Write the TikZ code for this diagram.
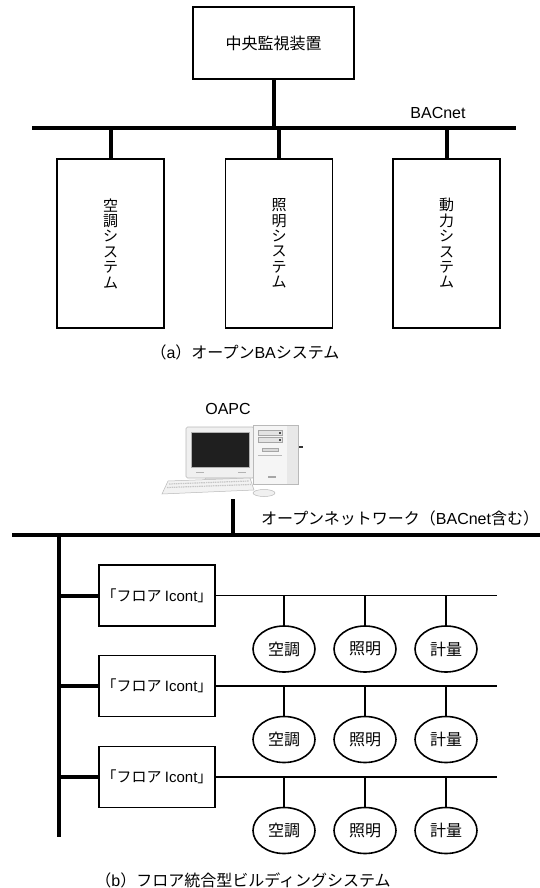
\documentclass[tikz,border=0pt]{standalone}
\usepackage{fontspec}
\setmainfont{Liberation Sans}
\newfontfamily\jp{Noto Sans CJK JP}
\usetikzlibrary{shapes.geometric}

\begin{document}
\begin{tikzpicture}[x=1pt,y=-1pt,
  lbl/.style={font=\fontsize{16}{19}\selectfont, inner sep=0pt},
  sysbox/.style={draw, line width=1.6pt, inner sep=0pt, font=\fontsize{16}{19}\selectfont},
  vbox/.style={sysbox, minimum width=107pt, minimum height=169pt, align=center,
               font={\jp\fontsize{15}{15.4}\selectfont}},
  floorbox/.style={sysbox, minimum width=116pt, minimum height=61pt, font=\fontsize{15}{18}\selectfont},
  dev/.style={ellipse, draw, line width=1.6pt, minimum width=62pt, minimum height=46pt,
              inner sep=0pt, font=\fontsize{16}{19}\selectfont},
  bus/.style={line width=4pt},
  wire/.style={line width=1.6pt}]
\useasboundingbox (0,0) rectangle (540,888);

% ---------- (a) open BA system ----------
\node[sysbox, minimum width=161pt, minimum height=72pt] (central) at (273.5,43) {\jp 中央監視装置};
\coordinate (busAL) at (32,128);
\coordinate (busAR) at (516,128);
\draw[bus] (busAL) -- (busAR);
\draw[bus] (central.south) -- (central.south |- busAL);
\node[lbl] (bacnet) at (438,113) {BACnet};

\node[vbox] (ac)  at (110.5,243.5) {空\\調\\シ\\ス\\テ\\ム};
\node[vbox] (lt)  at (279,243.5)   {照\\明\\シ\\ス\\テ\\ム};
\node[vbox] (pw)  at (446.5,243.5) {動\\力\\シ\\ス\\テ\\ム};
\foreach \s in {ac,lt,pw}
  \draw[bus] (\s.north |- busAL) -- (\s.north);

\node[lbl] (capA) at (245,352) {{\jp （}a{\jp ）オープン}BA{\jp システム}};

% ---------- (b) floor integrated building system ----------
\node[lbl] (oapc) at (228,409) {OAPC};

% workstation
\fill[gray!12, draw=gray!55, line width=0.6pt, rounded corners=1.5pt] (186,427) rectangle (254,478);
\fill[black!88, draw=gray!60, line width=0.8pt] (191,432) rectangle (249,467);
\draw[gray!60, line width=0.6pt] (196,472) -- (204,472) (238,472) -- (246,472);
\fill[gray!22, draw=gray!55, line width=0.5pt] (206,478) -- (236,478) -- (240,483) -- (202,483) -- cycle;
\fill[gray!8, draw=gray!55, line width=0.6pt] (253,425) rectangle (298,484);
\fill[gray!18] (287,425.5) rectangle (297.5,483.5);
\draw[gray!70, fill=gray!22, line width=0.5pt] (258,430) rectangle (282,435);
\draw[gray!70, fill=gray!22, line width=0.5pt] (258,437) rectangle (282,442);
\fill[black!70] (279,431.5) rectangle (281,433.5);
\fill[black!70] (279,438.5) rectangle (281,440.5);
\draw[gray!70, fill=gray!30, line width=0.4pt] (262,448) rectangle (278,451);
\draw[gray!55, line width=0.4pt] (258,455) -- (282,455);
\fill[gray!70] (268,476) rectangle (276,478);
\fill[gray!10, draw=gray!55, line width=0.5pt] (168,481) -- (250,478) -- (254,490) -- (162,494) -- cycle;
\draw[gray!45, dash pattern=on 1.5pt off 0.8pt, line width=1.2pt] (169,484) -- (249,481) (167,487.5) -- (251,484.5);
\fill[gray!12, draw=gray!55, line width=0.5pt] (264,493) ellipse [x radius=11, y radius=3.5];
\draw[black!80, line width=1.2pt] (299,447) -- (303,447);
\coordinate (pc) at (233,499);

\coordinate (busBL) at (12,535);
\coordinate (busBR) at (540,535);
\draw[bus] (busBL) -- (busBR);
\draw[bus] (pc) -- (pc |- busBL);
\node[lbl, anchor=west] (net) at (261,518) {{\jp オープンネットワーク（}BACnet{\jp 含む）}};

\coordinate (trunkTop) at (59,535);
\coordinate (trunkEnd) at (59,837);
\draw[bus] (trunkTop) -- (trunkEnd);

\foreach \i/\y in {1/595.5, 2/686, 3/777} {
  \node[floorbox] (fl\i) at (157,\y) {{\jp 「フロア }Icont{\jp 」}};
  \coordinate (lineEnd\i) at (497,\y);
  \draw[bus] (fl\i.west -| trunkTop) -- (fl\i.west);
  \draw[wire] (fl\i.east) -- (lineEnd\i);
  \pgfmathsetmacro{\ey}{\y+53.5}
  \node[dev] (ac\i) at (284,\ey) {\jp 空調};
  \node[dev] (lt\i) at (365,\ey) {\jp 照明};
  \node[dev] (mt\i) at (446,\ey) {\jp 計量};
  \foreach \d in {ac,lt,mt}
    \draw[wire] (\d\i.north |- fl\i.east) -- (\d\i.north);
}

\node[lbl] (capB) at (243,880) {{\jp （}b{\jp ）フロア統合型ビルディングシステム}};
\end{tikzpicture}
\end{document}
